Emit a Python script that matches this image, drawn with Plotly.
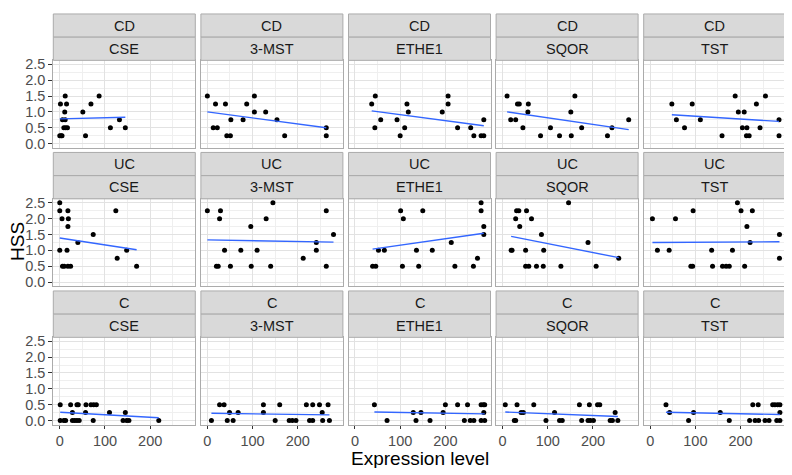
import plotly.graph_objects as go

groups = ["CD", "UC", "C"]
genes = ["CSE", "3-MST", "ETHE1", "SQOR", "TST"]
x_ticks = [0, 100, 200]
y_ticks = [0.0, 0.5, 1.0, 1.5, 2.0, 2.5]

# ---- CD ----
cd_cse_x = [0, 3, 5, 1.5, 12, 15, 11, 6, 12, 9, 13, 17, 51, 57, 69, 87, 112, 132, 145]
cd_cse_y = [0.25, 0.25, 0.25, 1.25, 1.5, 1.25, 1.0, 0.75, 0.75, 0.5, 0.5, 0.5, 1.0, 0.25, 1.25, 1.5, 0.5, 0.75, 0.5]
cd_mst_x = [0, 13, 22, 18, 40, 43, 51, 52, 79, 87, 104, 104, 129, 154, 171, 263, 263]
cd_mst_y = [1.5, 0.5, 0.5, 1.25, 1.25, 0.25, 0.25, 0.75, 0.75, 1.25, 1.5, 1.0, 1.0, 0.75, 0.25, 0.5, 0.25]
cd_ethe_x = [37, 45, 44, 57, 93, 100, 110, 115, 118, 193, 206, 206, 227, 256, 263, 279, 285, 285]
cd_ethe_y = [1.25, 1.5, 0.5, 0.75, 0.75, 0.25, 0.5, 1.25, 1.0, 1.0, 1.5, 1.25, 0.5, 0.5, 0.25, 0.25, 0.25, 0.75]
cd_sqor_x = [10, 18, 29, 33, 37, 57, 56, 45, 84, 106, 126, 151, 152, 160, 175, 232, 242, 279]
cd_sqor_y = [1.5, 0.75, 0.75, 1.25, 1.25, 1.25, 1.0, 0.5, 0.25, 0.5, 0.25, 1.0, 0.25, 1.5, 0.5, 0.25, 0.5, 0.75]
cd_tst_x = [48, 58, 76, 93, 111, 159, 188, 195, 208, 204, 214, 213, 219, 235, 243, 255, 285, 285]
cd_tst_y = [1.25, 0.75, 0.5, 1.25, 0.75, 0.25, 1.5, 1.0, 1.0, 0.5, 0.5, 0.25, 0.25, 1.25, 0.5, 1.5, 0.75, 0.25]

# ---- UC ----
uc_cse_x = [0, 0, 5, 0, 6, 10, 18, 24, 18, 19, 18, 16, 40, 74, 124, 127, 148, 170]
uc_cse_y = [2.5, 2.25, 2.0, 1.0, 0.5, 0.5, 0.5, 0.5, 2.25, 2.0, 1.75, 1.0, 1.25, 1.5, 2.25, 0.75, 1.0, 0.5]
uc_mst_x = [0, 20, 24, 29, 27, 38, 51, 74, 96, 97, 110, 130, 140, 145, 212, 241, 241, 263, 263, 279]
uc_mst_y = [2.25, 0.5, 0.5, 2.25, 2.0, 1.0, 0.5, 1.0, 1.75, 0.5, 1.0, 2.0, 0.5, 2.5, 0.75, 1.25, 1.0, 2.25, 0.5, 1.5]
uc_ethe_x = [39, 46, 52, 65, 101, 107, 105, 141, 150, 136, 171, 213, 221, 262, 271, 279, 279, 285, 285]
uc_ethe_y = [0.5, 0.5, 1.0, 1.0, 2.25, 2.0, 0.5, 0.5, 2.25, 1.0, 1.0, 1.25, 0.5, 0.5, 0.75, 2.5, 2.25, 1.75, 1.5]
uc_sqor_x = [19, 21, 29, 31, 36, 38, 51, 51, 58, 53, 64, 75, 86, 90, 91, 129, 146, 189, 207, 257]
uc_sqor_y = [1.0, 1.0, 2.0, 2.25, 2.25, 1.75, 1.0, 0.5, 0.5, 2.25, 2.0, 0.5, 1.5, 0.5, 1.0, 0.5, 2.5, 1.25, 0.5, 0.75]
uc_tst_x = [5, 16, 42, 56, 90, 94, 95, 136, 138, 160, 168, 175, 182, 193, 201, 209, 214, 221, 226, 286, 286]
uc_tst_y = [2.0, 1.0, 1.0, 2.0, 0.5, 0.5, 2.25, 1.0, 0.5, 0.5, 0.5, 0.5, 1.0, 2.5, 2.25, 0.5, 1.75, 1.25, 2.25, 1.5, 0.75]

# ---- C ----
c_cse_x = [1, 1, 9, 13, 24, 28, 28, 33, 38, 43, 38, 41, 58, 57, 69, 75, 81, 74, 110, 140, 145, 148, 153, 219]
c_cse_y = [0.5, 0, 0, 0, 0.5, 0.25, 0, 0, 0, 0, 0.5, 0.5, 0.5, 0.25, 0.5, 0.5, 0.5, 0, 0.25, 0, 0.25, 0, 0, 0]
c_mst_x = [9, 27, 37, 44, 49, 57, 68, 124, 124, 150, 160, 181, 188, 196, 219, 226, 233, 233, 248, 254, 255, 267, 270]
c_mst_y = [0, 0.5, 0.5, 0, 0.25, 0, 0.25, 0.5, 0.25, 0, 0.5, 0, 0, 0, 0.5, 0, 0, 0.5, 0.5, 0.25, 0, 0.5, 0]
c_ethe_x = [43, 71, 129, 135, 146, 166, 195, 200, 227, 242, 249, 255, 263, 279, 284, 287, 285, 279, 287]
c_ethe_y = [0.5, 0, 0.25, 0, 0.25, 0, 0.25, 0.5, 0.5, 0, 0.5, 0, 0, 0.5, 0.5, 0.5, 0.25, 0, 0]
c_sqor_x = [6, 26, 29, 32, 41, 46, 69, 96, 115, 126, 132, 170, 175, 189, 194, 201, 192, 210, 215, 238, 243, 249, 255]
c_sqor_y = [0.5, 0, 0, 0.5, 0.25, 0.25, 0.5, 0, 0.25, 0, 0, 0.5, 0, 0, 0, 0, 0.5, 0.5, 0.5, 0, 0, 0.25, 0]
c_tst_x = [35, 43, 85, 96, 155, 175, 220, 227, 232, 240, 239, 254, 263, 271, 276, 282, 287, 287, 280, 287]
c_tst_y = [0.5, 0.25, 0, 0.25, 0.25, 0, 0, 0.5, 0, 0, 0.5, 0, 0, 0.5, 0.5, 0.5, 0.5, 0.25, 0, 0]

# Fitted (lm) line values at the smallest and largest x of each panel
cd_fit_start = [0.78, 1.00, 1.03, 1.00, 0.91]
cd_fit_end = [0.83, 0.50, 0.56, 0.44, 0.70]
uc_fit_start = [1.39, 1.33, 1.04, 1.44, 1.25]
uc_fit_end = [1.02, 1.26, 1.54, 0.77, 1.27]
c_fit_start = [0.26, 0.23, 0.27, 0.27, 0.26]
c_fit_end = [0.09, 0.18, 0.21, 0.13, 0.19]

panel_x = [
    [cd_cse_x, cd_mst_x, cd_ethe_x, cd_sqor_x, cd_tst_x],
    [uc_cse_x, uc_mst_x, uc_ethe_x, uc_sqor_x, uc_tst_x],
    [c_cse_x, c_mst_x, c_ethe_x, c_sqor_x, c_tst_x],
]
panel_y = [
    [cd_cse_y, cd_mst_y, cd_ethe_y, cd_sqor_y, cd_tst_y],
    [uc_cse_y, uc_mst_y, uc_ethe_y, uc_sqor_y, uc_tst_y],
    [c_cse_y, c_mst_y, c_ethe_y, c_sqor_y, c_tst_y],
]
fit_start = [cd_fit_start, uc_fit_start, c_fit_start]
fit_end = [cd_fit_end, uc_fit_end, c_fit_end]

# ---- layout geometry (window pixels); the page body has an 8px margin ----
WIN_W, WIN_H = 792, 475
OFF = 8
W, H = WIN_W - OFF, WIN_H - OFF
FONT = "Liberation Sans, Arial, sans-serif"
col_left0, panel_w, col_gap = 53.3, 142.0, 5.6
row_top0, strip_h, panel_h, row_gap = 10.0, 23.6, 88.7, 5.0
BORDER = "#ABABAB"
STRIP_FILL = "#D9D9D9"

def px(xp):
    return (xp - OFF) / W

def py(yp):
    return 1 - (yp - OFF) / H

fig = go.Figure()
shapes = []
annotations = []
layout = {}

for r in range(3):
    row_top = row_top0 + r * (2 * strip_h + panel_h + row_gap)
    ptop = row_top + 2 * strip_h
    pbot = ptop + panel_h
    for c in range(5):
        k = r * 5 + c + 1
        left = col_left0 + c * (panel_w + col_gap)
        right = left + panel_w
        xs = panel_x[r][c]
        ys = panel_y[r][c]
        xa = "x" if k == 1 else f"x{k}"
        ya = "y" if k == 1 else f"y{k}"
        fig.add_trace(go.Scatter(
            x=xs, y=ys, mode="markers", xaxis=xa, yaxis=ya,
            marker=dict(color="black", size=5), showlegend=False, hoverinfo="x+y"))
        xmin, xmax = min(xs), max(xs)
        fig.add_trace(go.Scatter(
            x=[xmin, xmax], y=[fit_start[r][c], fit_end[r][c]], mode="lines",
            xaxis=xa, yaxis=ya, line=dict(color="#3366FF", width=1.4),
            showlegend=False, hoverinfo="skip"))
        bottom_row = (r == 2)
        left_col = (c == 0)
        layout["xaxis" if k == 1 else f"xaxis{k}"] = dict(
            domain=[px(left), px(right)], anchor=ya, range=[-14.3, 299.8],
            tickmode="array", tickvals=x_ticks, ticktext=[str(v) for v in x_ticks],
            showticklabels=bottom_row, ticks="outside" if bottom_row else "",
            ticklen=3, tickcolor="#333333", tickwidth=1,
            tickfont=dict(family=FONT, size=14.5, color="#4D4D4D"),
            showgrid=True, gridcolor="#E2E2E2", gridwidth=1,
            minor=dict(tickmode="array", tickvals=[50, 150, 250], showgrid=True,
                       gridcolor="#EFEFEF", gridwidth=0.7, ticks=""),
            showline=True, mirror=True, linecolor=BORDER, linewidth=1,
            zeroline=False, fixedrange=True)
        layout["yaxis" if k == 1 else f"yaxis{k}"] = dict(
            domain=[py(pbot), py(ptop)], anchor=xa, range=[-0.125, 2.625],
            tickmode="array", tickvals=y_ticks, ticktext=[f"{v:.1f}" for v in y_ticks],
            showticklabels=left_col, ticks="outside" if left_col else "",
            ticklen=4, tickcolor="#333333", tickwidth=1,
            tickfont=dict(family=FONT, size=14.5, color="#4D4D4D"),
            showgrid=True, gridcolor="#E2E2E2", gridwidth=1,
            minor=dict(tickmode="array", tickvals=[0.25, 0.75, 1.25, 1.75, 2.25],
                       showgrid=True, gridcolor="#EFEFEF", gridwidth=0.7, ticks=""),
            showline=True, mirror=True, linecolor=BORDER, linewidth=1,
            zeroline=False, fixedrange=True)
        # two strips
        labels = [groups[r], genes[c]]
        for s in range(2):
            st = row_top + s * strip_h
            sb = st + strip_h
            shapes.append(dict(type="rect", xref="paper", yref="paper",
                               x0=px(left), x1=px(right), y0=py(sb), y1=py(st),
                               fillcolor=STRIP_FILL, line=dict(color=BORDER, width=1),
                               layer="above"))
            annotations.append(dict(xref="paper", yref="paper",
                                    x=px((left + right) / 2), y=py((st + sb) / 2),
                                    text=labels[s], showarrow=False,
                                    xanchor="center", yanchor="middle",
                                    font=dict(family=FONT, size=14.5, color="#1A1A1A")))

annotations.append(dict(xref="paper", yref="paper", x=px(419.5), y=py(461.5),
                        text="Expression level", showarrow=False, height=20,
                        xanchor="center", yanchor="middle",
                        font=dict(family=FONT, size=19, color="black")))
annotations.append(dict(xref="paper", yref="paper", x=px(18), y=py(242),
                        text="HSS", showarrow=False, textangle=-90,
                        xanchor="center", yanchor="middle",
                        font=dict(family=FONT, size=19, color="black")))

fig.update_layout(
    width=W, height=H, margin=dict(l=0, r=0, t=0, b=0),
    paper_bgcolor="white", plot_bgcolor="white",
    showlegend=False, shapes=shapes, annotations=annotations,
    font=dict(family=FONT), **layout)

fig.write_html("out.html")
